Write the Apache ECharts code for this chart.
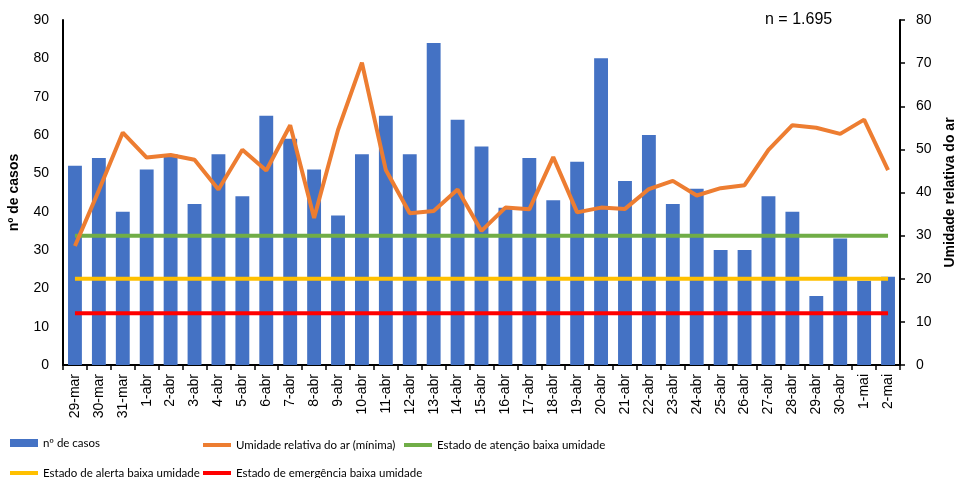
<!DOCTYPE html>
<html><head><meta charset="utf-8">
<script src="https://cdn.jsdelivr.net/npm/echarts@6/dist/echarts.min.js"></script>
<style>html,body{margin:0;padding:0;background:#fff}#c{width:959px;height:478px}</style>
</head><body><div id="c"></div>
<script>
const categories = ['29-mar','30-mar','31-mar','1-abr','2-abr','3-abr','4-abr','5-abr','6-abr','7-abr','8-abr','9-abr','10-abr','11-abr','12-abr','13-abr','14-abr','15-abr','16-abr','17-abr','18-abr','19-abr','20-abr','21-abr','22-abr','23-abr','24-abr','25-abr','26-abr','27-abr','28-abr','29-abr','30-abr','1-mai','2-mai'];
const casos = [52,54,40,51,55,42,55,44,65,59,51,39,55,65,55,84,64,57,41,54,43,53,80,48,60,42,46,30,30,44,40,18,33,22,23];
const umidade = [27.6,40.5,53.9,48.1,48.7,47.6,40.7,49.9,45.1,55.6,34.1,54.5,70.1,45.2,35.2,35.7,40.7,31.1,36.5,36.1,48.2,35.4,36.5,36.2,40.8,42.7,39.3,41.0,41.7,49.9,55.6,55.0,53.6,56.9,45.2];
const atencao = categories.map(() => 30);
const alerta = categories.map(() => 20);
const emergencia = categories.map(() => 12);
const leftTicks = [0,10,20,30,40,50,60,70,80,90];
const rightTicks = [0,10,20,30,40,50,60,70,80];

const NAMES = ['nº de casos','Umidade relativa do ar (mínima)','Estado de atenção baixa umidade','Estado de alerta baixa umidade','Estado de emergência baixa umidade'];
const legendFont = {fontFamily:'Lato, sans-serif', fontSize:11.5, color:'#000'};
function lg(name, left, top, h){
  return {data:[{name:name, icon:'rect'}], left:left, top:top, itemWidth:28, itemHeight:h, itemGap:0, padding:0, textStyle:legendFont, selectedMode:false};
}
const chart = echarts.init(document.getElementById('c'));
const tickFont = {fontFamily:'Liberation Sans, Arial, sans-serif', fontSize:14, color:'#000'};
chart.setOption({
  animation:false,
  textStyle:{fontFamily:'Liberation Sans, Arial, sans-serif'},
  grid:{left:63, right:59, top:20, bottom:113, outerBoundsMode:'none', containLabel:false},
  legend:[
    lg(NAMES[0], 10, 437, 8),
    lg(NAMES[1], 203, 439, 4),
    lg(NAMES[2], 404, 439, 4),
    lg(NAMES[3], 10, 467, 4),
    lg(NAMES[4], 203, 467, 4)
  ],
  graphic:[{type:'text', left:765, top:12, style:{text:'n = 1.695', fontSize:16, fontFamily:'Liberation Sans, Arial, sans-serif', fill:'#000'}}],
  xAxis:{type:'category', data:categories, boundaryGap:true,
    axisLine:{lineStyle:{color:'#000', width:2}},
    axisTick:{show:true, length:5, lineStyle:{color:'#000', width:1.5}},
    axisLabel:{rotate:90, interval:0, fontSize:14, color:'#000', fontFamily:'Liberation Sans, Arial, sans-serif', margin:9}
  },
  yAxis:[
    {type:'value', min:leftTicks[0], max:leftTicks[leftTicks.length-1], interval:10,
     name:'nº de casos', nameLocation:'middle', nameGap:42, nameRotate:90,
     nameTextStyle:{fontWeight:'bold', fontSize:14, color:'#000', fontFamily:'Liberation Sans, Arial, sans-serif'},
     axisLine:{show:true, lineStyle:{color:'#000', width:2}}, axisTick:{show:false},
     splitLine:{show:false}, axisLabel:Object.assign({margin:14}, tickFont)},
    {type:'value', min:rightTicks[0], max:rightTicks[rightTicks.length-1], interval:10, position:'right',
     name:'Umidade relativa do ar', nameLocation:'middle', nameGap:43, nameRotate:90,
     nameTextStyle:{fontWeight:'bold', fontSize:14, color:'#000', fontFamily:'Liberation Sans, Arial, sans-serif'},
     axisLine:{show:true, lineStyle:{color:'#000', width:2}}, axisTick:{show:true, length:5, lineStyle:{color:'#000', width:1.5}},
     splitLine:{show:false}, axisLabel:Object.assign({margin:16}, tickFont)}
  ],
  series:[
    {name:NAMES[0], type:'bar', data:casos, barWidth:'58%', itemStyle:{color:'#4472C4'}, yAxisIndex:0},
    {name:NAMES[1], type:'line', data:umidade, yAxisIndex:1, symbol:'none', lineStyle:{color:'#ED7D31', width:4}, itemStyle:{color:'#ED7D31'}, z:5},
    {name:NAMES[2], type:'line', data:atencao, yAxisIndex:1, symbol:'none', lineStyle:{color:'#70AD47', width:4}, itemStyle:{color:'#70AD47'}, z:4},
    {name:NAMES[3], type:'line', data:alerta, yAxisIndex:1, symbol:'none', lineStyle:{color:'#FFC000', width:4}, itemStyle:{color:'#FFC000'}, z:4},
    {name:NAMES[4], type:'line', data:emergencia, yAxisIndex:1, symbol:'none', lineStyle:{color:'#FF0000', width:4}, itemStyle:{color:'#FF0000'}, z:4}
  ]
});
</script></body></html>
